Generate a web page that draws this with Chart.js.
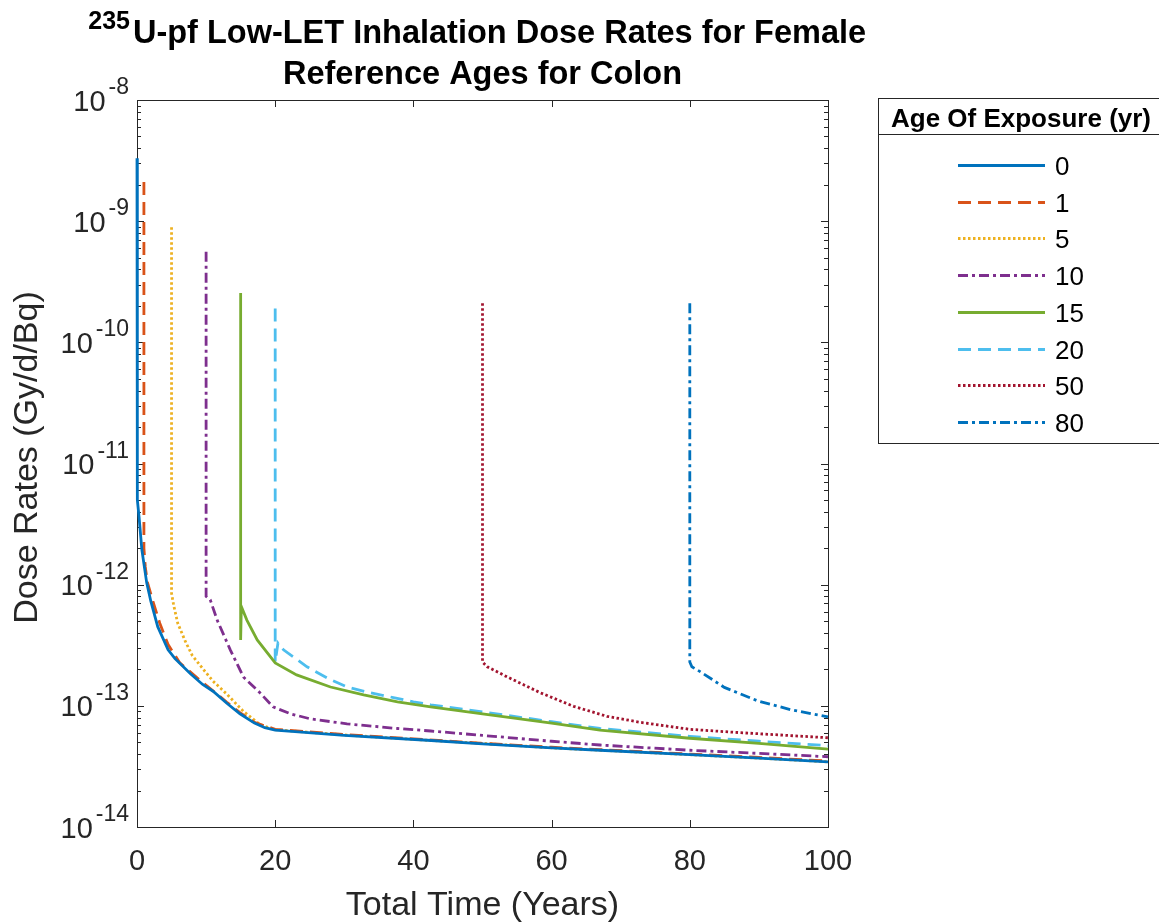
<!DOCTYPE html>
<html>
<head>
<meta charset="utf-8">
<title>235U-pf Low-LET Inhalation Dose Rates - Colon</title>
<script src="https://cdn.jsdelivr.net/npm/chart.js@4.4.1/dist/chart.umd.min.js"></script>
<style>
    html, body { margin: 0; padding: 0; background: #fff; }
    #wrap { position: relative; width: 1159px; height: 924px; }
</style>
</head>
<body>
<div id="wrap"><canvas id="doseChart"></canvas></div>
<script>
// Ages of exposure (legend entries)
const ages = ['0', '1', '5', '10', '15', '20', '50', '80'];

// Time (years) and dose rate (Gy/d/Bq) for each age of exposure
const t0 = [0, 0, 0.1, 0.3, 0.7, 1.4, 2.0, 3.0, 4.5, 5.5, 7.7, 9.5, 11, 13, 14.9, 17, 18.5, 20, 30, 42, 50, 60, 67, 80, 90, 100];
const d0 = [3.3e-9, 7.0e-12, 5.0e-12, 3.6e-12, 1.95e-12, 1.04e-12, 7.3e-13, 4.5e-13, 2.9e-13, 2.45e-13, 1.85e-13, 1.5e-13, 1.32e-13, 1.05e-13, 8.6e-14, 7.2e-14, 6.6e-14, 6.3e-14, 5.7e-14, 5.2e-14, 4.85e-14, 4.5e-14, 4.3e-14, 3.95e-14, 3.7e-14, 3.45e-14];

const t1 = [1, 1, 1.2, 1.5, 2.3, 3.3, 4.5, 6.2, 8.7, 11, 13, 14.9, 17, 20, 30, 42, 50, 60, 67, 80, 90, 100];
const d1 = [2.1e-9, 2.0e-12, 1.4e-12, 1.05e-12, 7.3e-13, 4.8e-13, 3.2e-13, 2.26e-13, 1.7e-13, 1.33e-13, 1.07e-13, 8.8e-14, 7.3e-14, 6.4e-14, 5.8e-14, 5.25e-14, 4.9e-14, 4.55e-14, 4.35e-14, 4.0e-14, 3.75e-14, 3.5e-14];

const t5 = [5, 5, 5.3, 5.9, 7.0, 8.0, 9.6, 11, 13, 15.4, 17.8, 20, 30, 42, 50, 60, 67, 80, 90, 100];
const d5 = [8.9e-10, 8.5e-13, 6.8e-13, 4.8e-13, 3.4e-13, 2.6e-13, 2.0e-13, 1.6e-13, 1.25e-13, 9.0e-14, 7.0e-14, 6.35e-14, 5.75e-14, 5.2e-14, 4.9e-14, 4.5e-14, 4.3e-14, 3.95e-14, 3.7e-14, 3.45e-14];

const t10 = [10, 10, 10.6, 11.6, 13.5, 15.4, 17.8, 19.7, 22.2, 25.1, 30.4, 37.7, 42.5, 50, 60, 67, 80, 90, 100];
const d10 = [5.6e-10, 8.0e-13, 7.5e-13, 5.1e-13, 2.9e-13, 1.73e-13, 1.28e-13, 9.8e-14, 8.6e-14, 7.8e-14, 7.1e-14, 6.5e-14, 6.2e-14, 5.7e-14, 5.1e-14, 4.75e-14, 4.3e-14, 4.05e-14, 3.8e-14];

const t15 = [15, 15, 15.1, 15.9, 17.4, 20, 23.1, 28, 32.8, 37.7, 42.5, 50, 60, 67, 80, 90, 100];
const d15 = [2.55e-10, 3.5e-13, 6.6e-13, 5.1e-13, 3.5e-13, 2.26e-13, 1.8e-13, 1.43e-13, 1.23e-13, 1.08e-13, 9.8e-14, 8.6e-14, 7.2e-14, 6.3e-14, 5.4e-14, 4.9e-14, 4.4e-14];

const t20 = [20, 20, 20.4, 21.2, 24.6, 27.5, 30.4, 33.8, 37.1, 40, 42.5, 50, 60, 67, 80, 90, 100];
const d20 = [1.9e-10, 2.3e-13, 3.3e-13, 2.9e-13, 2.1e-13, 1.7e-13, 1.43e-13, 1.28e-13, 1.17e-13, 1.08e-13, 1.02e-13, 8.9e-14, 7.4e-14, 6.5e-14, 5.6e-14, 5.1e-14, 4.7e-14];

const t50 = [50, 50, 50.7, 53.6, 58.4, 63.2, 68, 72.9, 80, 87.4, 100];
const d50 = [2.1e-10, 2.3e-13, 2.1e-13, 1.73e-13, 1.28e-13, 9.9e-14, 8.2e-14, 7.3e-14, 6.4e-14, 6.0e-14, 5.45e-14];

const t80 = [80, 80, 80.3, 81.6, 85, 89.8, 94.6, 100];
const d80 = [2.1e-10, 2.3e-13, 2.1e-13, 1.9e-13, 1.42e-13, 1.1e-13, 9.3e-14, 8.1e-14];

const times = [t0, t1, t5, t10, t15, t20, t50, t80];
const rates = [d0, d1, d5, d10, d15, d20, d50, d80];

// Axis ticks
const xTicks = [0, 20, 40, 60, 80, 100];
const yExponents = [-8, -9, -10, -11, -12, -13, -14];

// Text
const titleSup = '235';
const titleLine1 = 'U-pf Low-LET Inhalation Dose Rates for Female';
const titleLine2 = 'Reference Ages for Colon';
const xTitle = 'Total Time (Years)';
const yTitle = 'Dose Rates (Gy/d/Bq)';
const legendTitle = 'Age Of Exposure (yr)';

// Line styles (MATLAB-like colour order)
const lineStyles = [
    { color: '#0072BD', dash: [] },
    { color: '#D95319', dash: [13, 7] },
    { color: '#EDB120', dash: [2.5, 2.5] },
    { color: '#7E2F8E', dash: [10, 4, 3, 4] },
    { color: '#77AC30', dash: [] },
    { color: '#4DBEEE', dash: [13, 7] },
    { color: '#A2142F', dash: [2.5, 2.5] },
    { color: '#0072BD', dash: [10, 4, 3, 4] }
];

const FONT = '"Liberation Sans", Arial, Helvetica, sans-serif';
const AXIS_COLOR = '#262626';

document.addEventListener('DOMContentLoaded', function() {
    const canvas = document.getElementById('doseChart');
    canvas.width = 1159;
    canvas.height = 924;
    const ctx = canvas.getContext('2d');

    // Box, ticks and tick labels drawn like a MATLAB axes
    const matlabAxes = {
        id: 'matlabAxes',
        beforeDatasetsDraw(chart) {
            const c = chart.ctx;
            const a = chart.chartArea;
            const x = chart.scales.x;
            const y = chart.scales.y;
            c.save();
            c.strokeStyle = AXIS_COLOR;
            c.lineWidth = 1;
            c.strokeRect(a.left + 0.5, a.top + 0.5, a.right - a.left, a.bottom - a.top);

            c.beginPath();
            xTicks.forEach(v => {
                const px = Math.round(x.getPixelForValue(v)) + 0.5;
                c.moveTo(px, a.bottom); c.lineTo(px, a.bottom - 7);
                c.moveTo(px, a.top); c.lineTo(px, a.top + 7);
            });
            yExponents.forEach(e => {
                const py = Math.round(y.getPixelForValue(Math.pow(10, e))) + 0.5;
                c.moveTo(a.left, py); c.lineTo(a.left + 7, py);
                c.moveTo(a.right, py); c.lineTo(a.right - 7, py);
                if (e < -8) {
                    for (let m = 2; m <= 9; m++) {
                        const my = Math.round(y.getPixelForValue(m * Math.pow(10, e))) + 0.5;
                        c.moveTo(a.left, my); c.lineTo(a.left + 4, my);
                        c.moveTo(a.right, my); c.lineTo(a.right - 4, my);
                    }
                }
            });
            c.stroke();

            // tick labels
            c.fillStyle = AXIS_COLOR;
            c.textBaseline = 'alphabetic';
            c.textAlign = 'center';
            c.font = '29px ' + FONT;
            xTicks.forEach(v => {
                c.fillText(String(v), x.getPixelForValue(v), 870);
            });
            yExponents.forEach(e => {
                const py = y.getPixelForValue(Math.pow(10, e));
                const exp = '-' + Math.abs(e);
                c.font = '23px ' + FONT;
                const ew = c.measureText(exp).width;
                c.textAlign = 'right';
                c.fillText(exp, a.left - 8, py - 6);
                c.font = '29px ' + FONT;
                c.fillText('10', a.left - 8 - ew - 3, py + 10.5);
            });

            // axis titles
            c.font = '34px ' + FONT;
            c.textAlign = 'center';
            c.fillText(xTitle, (a.left + a.right) / 2, 915);
            c.save();
            c.translate(37, (a.top + a.bottom) / 2 - 6);
            c.rotate(-Math.PI / 2);
            c.fillText(yTitle, 0, 0);
            c.restore();

            // title with superscript
            const cx = (a.left + a.right) / 2;
            c.fillStyle = '#000';
            c.font = 'bold 32.5px ' + FONT;
            const mw = c.measureText(titleLine1).width;
            const x0 = cx + 17 - mw / 2;
            c.textAlign = 'left';
            c.fillText(titleLine1, x0, 42.5);
            c.textAlign = 'center';
            c.fillText(titleLine2, cx, 84);
            c.font = 'bold 25px ' + FONT;
            c.textAlign = 'right';
            c.fillText(titleSup, x0 - 3, 29);
            c.restore();
        },
        afterDraw(chart) {
            // legend box with title row
            const c = chart.ctx;
            const left = 878, top = 98, right = 1164, bottom = 443;
            c.save();
            c.fillStyle = '#fff';
            c.fillRect(left, top, right - left, bottom - top);
            c.strokeStyle = AXIS_COLOR;
            c.lineWidth = 1;
            c.strokeRect(left + 0.5, top + 0.5, right - left, bottom - top);
            c.beginPath();
            c.moveTo(left, 134.5); c.lineTo(right, 134.5);
            c.stroke();

            c.fillStyle = '#000';
            c.font = 'bold 26px ' + FONT;
            c.textAlign = 'center';
            c.textBaseline = 'alphabetic';
            c.fillText(legendTitle, (left + right) / 2, 127);

            c.font = '26px ' + FONT;
            c.textAlign = 'left';
            chart.data.datasets.forEach((ds, i) => {
                const ry = Math.round(165 + i * 36.7) + 0.5;
                c.save();
                c.strokeStyle = ds.borderColor;
                c.lineWidth = ds.borderWidth;
                c.setLineDash(ds.borderDash);
                c.beginPath();
                c.moveTo(958, ry); c.lineTo(1045, ry);
                c.stroke();
                c.restore();
                c.fillText(ds.label, 1055, ry + 9);
            });
            c.restore();
        }
    };

    const doseChart = new Chart(ctx, {
        type: 'line',
        data: {
            datasets: ages.map((age, i) => ({
                label: age,
                data: times[i].map((t, j) => ({ x: t, y: rates[i][j] })),
                borderColor: lineStyles[i].color,
                borderDash: lineStyles[i].dash,
                borderWidth: 2.8,
                borderCapStyle: 'butt',
                pointRadius: 0,
                tension: 0,
                fill: false,
                clip: 4
            }))
        },
        options: {
            responsive: false,
            animation: false,
            events: [],
            layout: {
                padding: { left: 137, top: 100, right: 1159 - 828, bottom: 924 - 827 }
            },
            plugins: {
                legend: { display: false },
                title: { display: false },
                tooltip: { enabled: false }
            },
            scales: {
                x: { type: 'linear', min: 0, max: 100, display: false },
                y: { type: 'logarithmic', min: 1e-14, max: 1e-8, display: false }
            }
        },
        plugins: [matlabAxes]
    });
});
</script>
</body>
</html>
